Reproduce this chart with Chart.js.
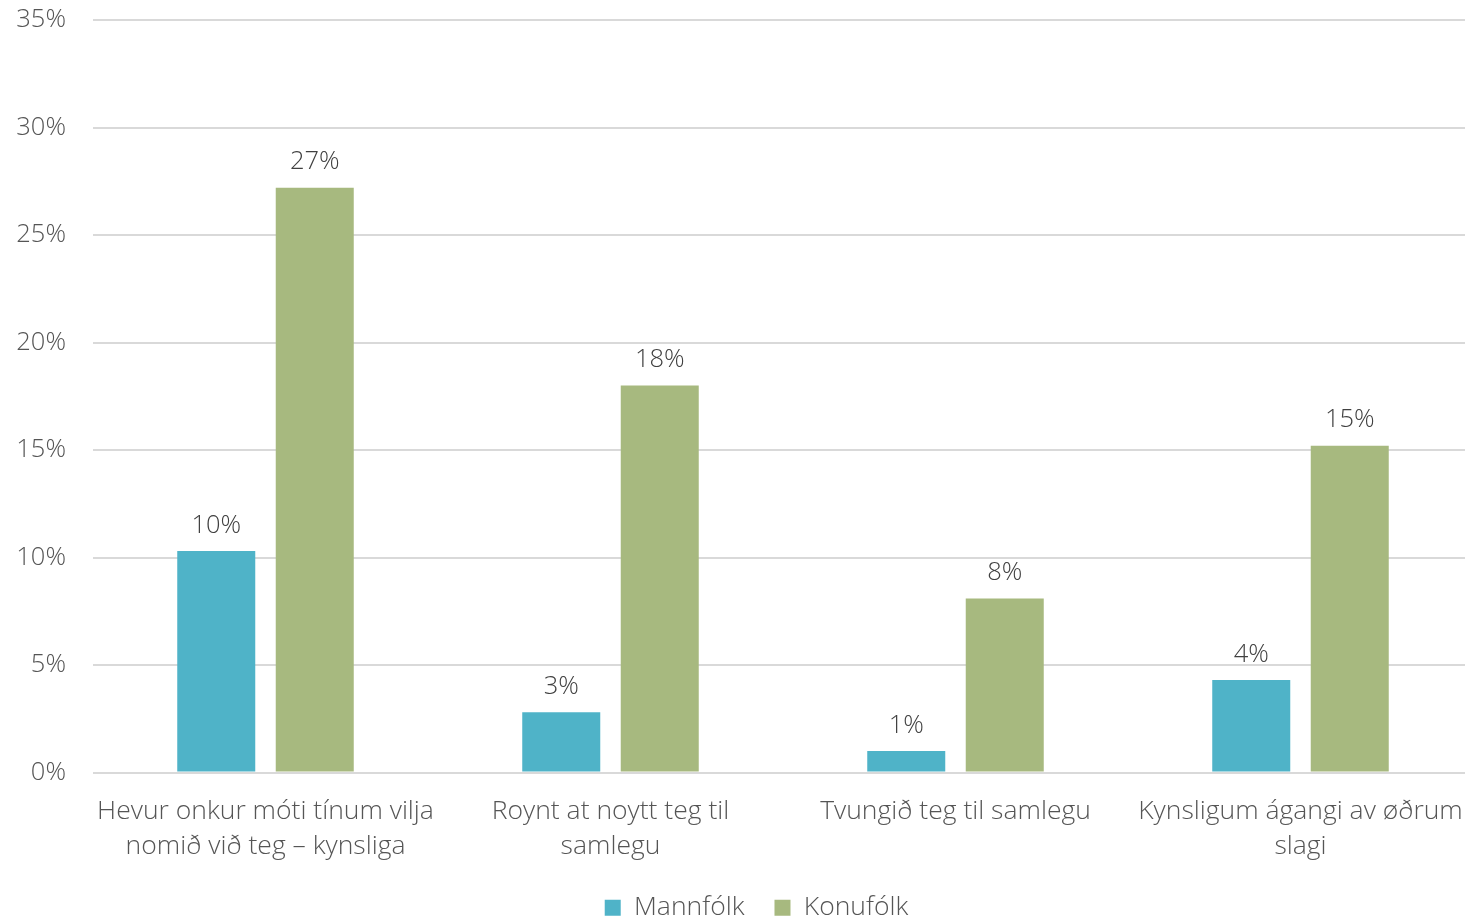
<!DOCTYPE html>
<html><head><meta charset="utf-8">
<script src="https://cdn.jsdelivr.net/npm/chart.js@4"></script>
<style>html,body{margin:0;padding:0;background:#fff;overflow:hidden}#wrap{width:1465px;height:919px;overflow:hidden}</style>
</head><body><div id="wrap"><canvas id="c" width="1473" height="919"></canvas></div>
<script>
const categories = [
  ["Hevur onkur móti tínum vilja", "nomið við teg – kynsliga"],
  ["Roynt at noytt teg til", "samlegu"],
  ["Tvungið teg til samlegu"],
  ["Kynsligum ágangi av øðrum", "slagi"]
];
const seriesNames = ["Mannfólk", "Konufólk"];
const mannfolk = [10.3, 2.8, 1.0, 4.3];
const konufolk = [27.2, 18.0, 8.1, 15.2];
const yTicks = [0, 5, 10, 15, 20, 25, 30, 35];

const labelPlugin = {
  id: 'vals',
  afterDatasetsDraw(chart) {
    const ctx = chart.ctx;
    ctx.save();
    ctx.font = '300 25.5px "Open Sans", sans-serif';
    ctx.fillStyle = '#404040';
    ctx.textAlign = 'center';
    ctx.textBaseline = 'bottom';
    chart.data.datasets.forEach((ds, i) => {
      chart.getDatasetMeta(i).data.forEach((bar, j) => {
        ctx.fillText(Math.round(ds.data[j]) + '%', bar.x, bar.y - 13);
      });
    });
    ctx.restore();
  }
};

const legendShift = {
  id: 'legendShift',
  afterLayout(chart) {
    const l = chart.legend;
    if (l) { l.left += 20; l.right += 20; }
  }
};

const txt = '#555555';
new Chart(document.getElementById('c'), {
  type: 'bar',
  data: {
    labels: categories,
    datasets: [
      { label: seriesNames[0], data: mannfolk, backgroundColor: '#4FB3C8' },
      { label: seriesNames[1], data: konufolk, backgroundColor: '#A7B97F' }
    ]
  },
  options: {
    responsive: false,
    animation: false,
    layout: { padding: { top: 20, right: 0, left: 0, bottom: -12 } },
    datasets: { bar: { categoryPercentage: 0.571, barPercentage: 0.792 } },
    scales: {
      x: {
        afterFit(axis) { axis.paddingLeft = 0; axis.paddingRight = 0; axis.height -= 20; },
        grid: { display: false, drawTicks: false },
        border: { display: false },
        ticks: { color: txt, font: { family: '"Open Sans", sans-serif', size: 26.5, weight: '300', lineHeight: 1.32 }, padding: 21, maxRotation: 0, autoSkip: false }
      },
      y: {
        min: 0, max: 35,
        afterBuildTicks(axis) { axis.ticks = yTicks.map(v => ({ value: v })); },
        afterFit(axis) { axis.width = 93; axis.paddingTop = 0; axis.paddingBottom = 0; },
        grid: { color: '#D9D9D9', lineWidth: 2, drawTicks: false },
        border: { display: false },
        ticks: { color: txt, font: { family: '"Open Sans", sans-serif', size: 25.5, weight: '300' }, padding: 27, callback: v => v + '%' }
      }
    },
    plugins: {
      legend: {
        position: 'bottom',
        labels: { color: txt, font: { family: '"Open Sans", sans-serif', size: 26.5, weight: '300' }, boxWidth: 16, boxHeight: 16, padding: 30 }
      },
      tooltip: { enabled: false }
    }
  },
  plugins: [labelPlugin, legendShift]
});
</script></body></html>
